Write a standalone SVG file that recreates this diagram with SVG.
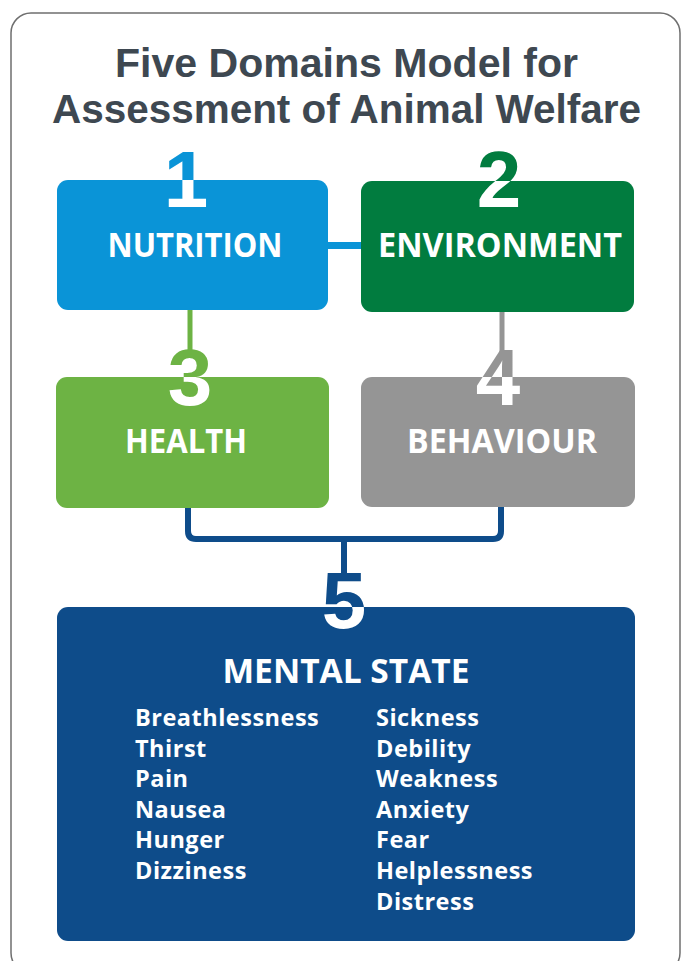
<svg xmlns="http://www.w3.org/2000/svg" width="685" height="961" viewBox="0 0 685 961">
<style>
.title{font-family:"Liberation Sans","Open Sans",sans-serif;font-weight:700;font-size:40px;fill:#3e4851;text-anchor:middle}
.num{font-family:"Liberation Sans","Open Sans",sans-serif;font-weight:700;font-size:80px;text-anchor:middle}
.lbl{font-family:"Open Sans","Liberation Sans",sans-serif;font-weight:700;font-size:34px;fill:#fff;text-anchor:middle}
.item{font-family:"Open Sans","Liberation Sans",sans-serif;font-weight:700;font-size:23.5px;letter-spacing:0.5px;fill:#fff}
.conn{fill:none;stroke-linejoin:round}
</style>
<defs>
<linearGradient id="g1" gradientUnits="userSpaceOnUse" x1="0" y1="170" x2="0" y2="190"><stop offset="0.5" stop-color="#0a94d7"/><stop offset="0.5" stop-color="#fff"/></linearGradient>
<linearGradient id="g2" gradientUnits="userSpaceOnUse" x1="0" y1="171" x2="0" y2="191"><stop offset="0.5" stop-color="#017c3f"/><stop offset="0.5" stop-color="#fff"/></linearGradient>
<linearGradient id="g3" gradientUnits="userSpaceOnUse" x1="0" y1="367" x2="0" y2="387"><stop offset="0.5" stop-color="#6db344"/><stop offset="0.5" stop-color="#fff"/></linearGradient>
<linearGradient id="g4" gradientUnits="userSpaceOnUse" x1="0" y1="367" x2="0" y2="387"><stop offset="0.5" stop-color="#959595"/><stop offset="0.5" stop-color="#fff"/></linearGradient>
<linearGradient id="g5" gradientUnits="userSpaceOnUse" x1="0" y1="597" x2="0" y2="617"><stop offset="0.5" stop-color="#0e4c8a"/><stop offset="0.5" stop-color="#fff"/></linearGradient>
</defs>
<rect x="0" y="0" width="685" height="961" fill="#fff"/>
<rect x="11" y="13" width="669" height="960" rx="20" fill="#fff" stroke="#6f6f6f" stroke-width="1.5"/>
<g id="title">
<text class="title"><tspan x="346.5" y="77" textLength="463" lengthAdjust="spacingAndGlyphs">Five Domains Model for</tspan><tspan x="346.5" y="123" textLength="589" lengthAdjust="spacingAndGlyphs">Assessment of Animal Welfare</tspan></text>
</g>
<g id="connectors">
<path class="conn" d="M328 245.5H361" stroke="#0a94d7" stroke-width="7"/>
<path class="conn" d="M190 310V352" stroke="#6db344" stroke-width="5"/>
<path class="conn" d="M502 312V352" stroke="#959595" stroke-width="5"/>
<path class="conn" d="M188 508V531Q188 539 196 539H493Q501 539 501 531V507" stroke="#0e4c8a" stroke-width="6"/>
<path class="conn" d="M344 539V580" stroke="#0e4c8a" stroke-width="6"/>
</g>
<g id="nutrition">
<rect x="57" y="180" width="271" height="130" rx="11" fill="#0a94d7"/>
<text class="num" x="186" y="207" fill="url(#g1)">1</text>
<text class="lbl" x="195" y="257" textLength="175" lengthAdjust="spacingAndGlyphs">NUTRITION</text>
</g>
<g id="environment">
<rect x="361" y="181" width="273" height="131" rx="11" fill="#017c3f"/>
<text class="num" x="499" y="207" fill="url(#g2)">2</text>
<text class="lbl" x="500" y="257" textLength="244" lengthAdjust="spacingAndGlyphs">ENVIRONMENT</text>
</g>
<g id="health">
<rect x="56" y="377" width="273" height="131" rx="11" fill="#6db344"/>
<text class="num" x="190" y="405" fill="url(#g3)">3</text>
<text class="lbl" x="186" y="453" textLength="122" lengthAdjust="spacingAndGlyphs">HEALTH</text>
</g>
<g id="behaviour">
<rect x="361" y="377" width="274" height="130" rx="11" fill="#959595"/>
<text class="num" x="498" y="405" fill="url(#g4)">4</text>
<text class="lbl" x="502" y="453" textLength="190" lengthAdjust="spacingAndGlyphs">BEHAVIOUR</text>
</g>
<g id="mental-state">
<rect x="57" y="607" width="578" height="334" rx="11" fill="#0e4c8a"/>
<text class="num" x="344" y="628" fill="url(#g5)">5</text>
<text class="lbl" x="346" y="683" textLength="247" lengthAdjust="spacingAndGlyphs">MENTAL STATE</text>
<text class="item" x="135" y="726">Breathlessness</text>
<text class="item" x="135" y="757">Thirst</text>
<text class="item" x="135" y="787">Pain</text>
<text class="item" x="135" y="818">Nausea</text>
<text class="item" x="135" y="848">Hunger</text>
<text class="item" x="135" y="879">Dizziness</text>
<text class="item" x="376" y="726">Sickness</text>
<text class="item" x="376" y="757">Debility</text>
<text class="item" x="376" y="787">Weakness</text>
<text class="item" x="376" y="818">Anxiety</text>
<text class="item" x="376" y="848">Fear</text>
<text class="item" x="376" y="879">Helplessness</text>
<text class="item" x="376" y="910">Distress</text>
</g>
</svg>
